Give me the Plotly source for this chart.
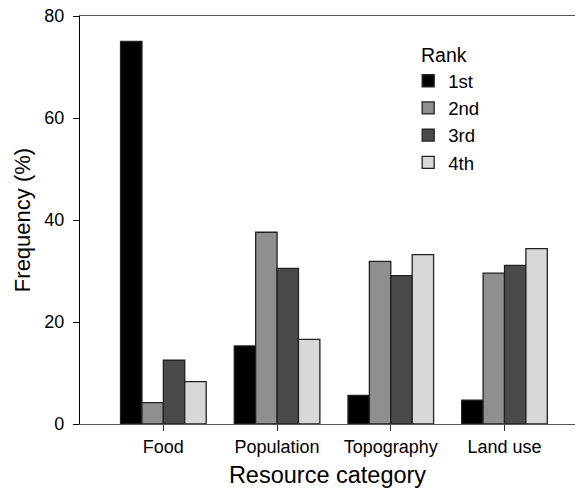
import plotly.graph_objects as go

categories = ["Food", "Population", "Topography", "Land use"]
rank_names = ["1st", "2nd", "3rd", "4th"]
rank1 = [75.0, 15.3, 5.6, 4.7]
rank2 = [4.2, 37.6, 31.9, 29.6]
rank3 = [12.5, 30.5, 29.1, 31.1]
rank4 = [8.3, 16.6, 33.2, 34.4]
y_ticks = [0, 20, 40, 60, 80]

series = [rank1, rank2, rank3, rank4]
colors = ["#000000", "#8f8f8f", "#4a4a4a", "#d8d8d8"]

FONT = "Liberation Sans, Arial, Helvetica, sans-serif"

fig = go.Figure()
for name, vals, col in zip(rank_names, series, colors):
    fig.add_trace(go.Bar(
        x=categories, y=vals, name=name,
        marker=dict(color=col, line=dict(color="#222222", width=1.3)),
    ))

fig.update_layout(
    width=577, height=488,
    margin=dict(l=80, r=2, t=16, b=64),
    plot_bgcolor="white", paper_bgcolor="white",
    barmode="group", bargap=0.247, bargroupgap=0,
    font=dict(family=FONT, color="black", size=18),
    showlegend=True,
    legend=dict(
        title=dict(text="\u00a0\u00a0Rank", font=dict(size=19.5), side="top"),
        x=0.663, y=0.949, xanchor="left", yanchor="top",
        font=dict(size=18.6), bgcolor="rgba(0,0,0,0)",
        itemwidth=30,
    ),
    xaxis=dict(
        range=[-0.733, 3.62], automargin=False,
        showline=True, linecolor="#555555", linewidth=1.3, mirror=True,
        ticks="outside", ticklen=6, tickcolor="#333333",
        tickfont=dict(size=18),
        title=dict(text="Resource category", font=dict(size=23.5), standoff=15),
        showgrid=False, zeroline=False,
    ),
    yaxis=dict(
        range=[0, 80], tickvals=y_ticks, automargin=False,
        showline=True, linecolor="black", linewidth=1.3,
        ticks="outside", ticklen=6, tickcolor="black",
        tickfont=dict(size=18), ticklabelstandoff=5,
        title=dict(text="Frequency (%)", font=dict(size=22), standoff=7),
        showgrid=False, zeroline=False,
    ),
)

fig.write_html(
    "out.html",
    config={"displayModeBar": False},
    post_script="document.body.style.margin='0';document.body.style.padding='0';",
)
